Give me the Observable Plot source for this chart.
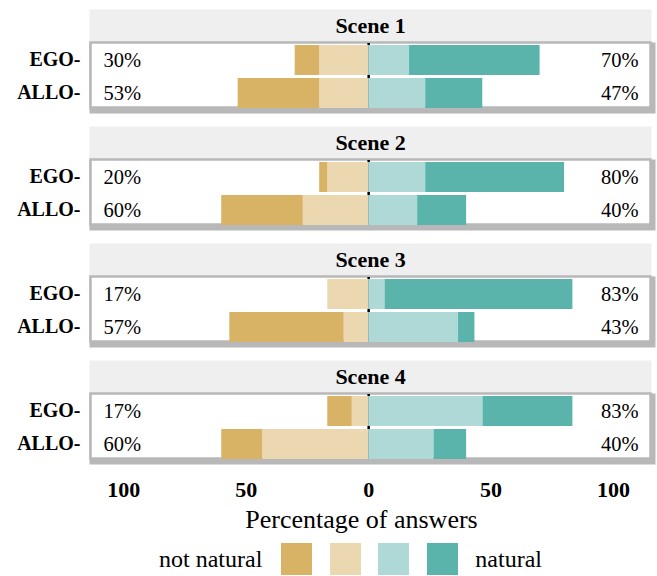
<!DOCTYPE html>
<html>
<head>
<meta charset="utf-8">
<script src="https://cdn.jsdelivr.net/npm/d3@7"></script>
<script src="https://cdn.jsdelivr.net/npm/@observablehq/plot@0.6"></script>
<style>
  html, body { margin: 0; padding: 0; background: white; }
  #wrap { width: 657px; font-family: "Liberation Serif", "Times New Roman", serif; }
  #xtitle { height: 30px; line-height: 30px; font-size: 26px; text-align: center; padding-left: 66px; box-sizing: border-box; width: 657px; }
  #legend { display: flex; align-items: center; height: 40px; padding-left: 159px; padding-top: 8px; box-sizing: border-box; font-size: 24px; }
  #legend .sw { width: 31px; height: 32px; margin-right: 17.5px; flex: none; }
  #legend .lab1 { margin-right: 19px; }
  #legend .lab2 { margin-left: 0px; }
</style>
</head>
<body>
<div id="wrap">
  <div id="chart"></div>
  <div id="xtitle">Percentage of answers</div>
  <div id="legend"></div>
</div>
<script>
// ---- data ----
const scenes = ["Scene 1", "Scene 2", "Scene 3", "Scene 4"];
const conditions = ["EGO-", "ALLO-"];
const levels = ["not natural (strong)", "not natural", "natural", "natural (strong)"];
const levelColors = ["#d8b365", "#ebd8b1", "#aed9d6", "#5ab4ac"];
// percentages, in order: S1 EGO, S1 ALLO, S2 EGO, S2 ALLO, S3 EGO, S3 ALLO, S4 EGO, S4 ALLO
const level1 = [10.0, 33.3, 3.3, 33.3, 0.0, 46.7, 10.0, 16.7];
const level2 = [20.0, 20.0, 16.7, 26.7, 16.7, 10.0, 6.7, 43.3];
const level3 = [16.7, 23.3, 23.3, 20.0, 6.7, 36.7, 46.7, 26.7];
const level4 = [53.3, 23.3, 56.7, 20.0, 76.7, 6.7, 36.7, 13.3];
const xTicks = [-100, -50, 0, 50, 100];
const legendLeft = "not natural";
const legendRight = "natural";

// ---- build diverging rows ----
const rows = [];
const labels = [];
scenes.forEach((scene, i) => {
  conditions.forEach((cond, j) => {
    const k = i * 2 + j;
    const v1 = level1[k], v2 = level2[k], v3 = level3[k], v4 = level4[k];
    rows.push({scene, cond, level: levels[1], x1: -v2, x2: 0});
    rows.push({scene, cond, level: levels[0], x1: -(v1 + v2), x2: -v2});
    rows.push({scene, cond, level: levels[2], x1: 0, x2: v3});
    rows.push({scene, cond, level: levels[3], x1: v3, x2: v3 + v4});
    labels.push({scene, cond, left: Math.round(v1 + v2), right: Math.round(v3 + v4)});
  });
});

const chart = Plot.plot({
  width: 657,
  height: 505,
  marginTop: 8,
  marginBottom: 45.5,
  marginLeft: 89,
  marginRight: 6,
  style: {fontFamily: "'Liberation Serif', 'Times New Roman', serif", background: "white", color: "black"},
  x: {domain: [-114, 115.5], label: null},
  y: {domain: ["", ...conditions], padding: 0, label: null},
  fy: {domain: scenes, paddingInner: 0.1574, paddingOuter: 0, axis: null, label: null},
  color: {domain: levels, range: levelColors},
  marks: [
    // strip header
    Plot.frame({insetBottom: 66, fill: "#efefef"}),
    // panel shadow + panel
    Plot.frame({insetTop: 33, insetBottom: -5, insetRight: -4, insetLeft: 0, fill: "#b8b8b8"}),
    Plot.frame({insetTop: 33, insetLeft: 1, insetRight: 1, insetBottom: 1, fill: "white", stroke: "#b8b8b8", strokeWidth: 2.5}),
    // zero line
    Plot.ruleX([0], {stroke: "black", strokeWidth: 2.5, insetTop: 34, insetBottom: 0}),
    // bars
    Plot.barX(rows, {x1: "x1", x2: "x2", y: "cond", fy: "scene", fill: "level", insetTop: 3, insetBottom: 0}),
    // strip titles
    Plot.text(scenes, {fy: d => d, text: d => d, frameAnchor: "top", dy: 16, lineAnchor: "middle", fontWeight: "bold", fontSize: 22}),
    // percentage labels
    Plot.text(labels, {fy: "scene", y: "cond", text: d => d.left + "%", frameAnchor: "left", dx: 14, dy: 1, textAnchor: "start", fontSize: 20.5}),
    Plot.text(labels, {fy: "scene", y: "cond", text: d => d.right + "%", frameAnchor: "right", dx: -13, dy: 1, textAnchor: "end", fontSize: 20.5}),
    // axes
    Plot.axisY(conditions, {tickSize: 0, tickPadding: 9, fontWeight: "bold", fontSize: 20, dy: 1}),
    Plot.axisX(xTicks, {tickSize: 0, tickPadding: 22, tickFormat: d => Math.abs(d), fontWeight: "bold", fontSize: 22, label: null})
  ]
});
document.getElementById("chart").appendChild(chart);

// legend
const lg = document.getElementById("legend");
const l1 = document.createElement("span"); l1.className = "lab1"; l1.textContent = legendLeft; lg.appendChild(l1);
levelColors.forEach(c => { const s = document.createElement("div"); s.className = "sw"; s.style.background = c; lg.appendChild(s); });
const l2 = document.createElement("span"); l2.className = "lab2"; l2.textContent = legendRight; lg.appendChild(l2);
</script>
</body>
</html>
